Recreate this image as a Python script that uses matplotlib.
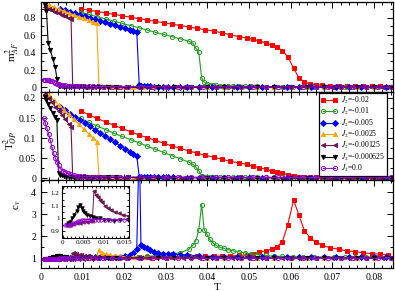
import numpy as np
import matplotlib
matplotlib.use("Agg")
import matplotlib.pyplot as plt
from matplotlib.ticker import MultipleLocator, FormatStrFormatter

plt.rcParams['font.family'] = ['Liberation Serif', 'DejaVu Serif']
plt.rcParams['mathtext.fontset'] = 'stix'

# ---- data ----
# J2 = -0.02
T_a = [0.0095, 0.0115, 0.0135, 0.0155, 0.0175, 0.0195, 0.0215, 0.0235, 0.0255, 0.0275,
       0.0295, 0.0315, 0.0335, 0.0355, 0.0375, 0.0395, 0.0415, 0.0435, 0.0455, 0.0475,
       0.0495, 0.051, 0.0525, 0.054, 0.0555, 0.0567, 0.058, 0.0593, 0.0607, 0.062,
       0.0633, 0.0647, 0.066, 0.0675, 0.0695, 0.0715, 0.0735, 0.0755, 0.0775, 0.0795,
       0.0815, 0.0835]
m_a = [0.900, 0.884, 0.868, 0.852, 0.836, 0.820, 0.804, 0.788, 0.772, 0.756,
       0.740, 0.724, 0.708, 0.692, 0.676, 0.660, 0.645, 0.625, 0.603, 0.582,
       0.565, 0.550, 0.532, 0.510, 0.485, 0.460, 0.420, 0.354, 0.220, 0.110,
       0.062, 0.042, 0.032, 0.026, 0.022, 0.019, 0.017, 0.015, 0.014, 0.013,
       0.012, 0.011]
op_a = [0.168, 0.158, 0.149, 0.140, 0.132, 0.124, 0.116, 0.108, 0.101, 0.094,
        0.087, 0.080, 0.074, 0.068, 0.062, 0.057, 0.052, 0.047, 0.042, 0.038,
        0.034, 0.030, 0.026, 0.022, 0.018, 0.015, 0.012, 0.009, 0.006, 0.004,
        0.003, 0.0025, 0.002, 0.002, 0.002, 0.0018, 0.0018, 0.0017, 0.0016, 0.0016,
        0.0015, 0.0015]
cv_a = [1.05, 1.05, 1.05, 1.05, 1.06, 1.06, 1.06, 1.06, 1.07, 1.07,
        1.07, 1.07, 1.08, 1.08, 1.08, 1.08, 1.09, 1.09, 1.10, 1.12,
        1.15, 1.20, 1.27, 1.33, 1.43, 1.52, 1.74, 2.53, 3.64, 2.95,
        2.25, 1.92, 1.74, 1.59, 1.47, 1.41, 1.33, 1.29, 1.24, 1.20,
        1.18, 1.15]

# J2 = -0.01
T_b = [0.0095, 0.0115, 0.0135, 0.0155, 0.0175, 0.0195, 0.0215, 0.0235, 0.0255, 0.0275,
       0.0295, 0.0315, 0.0335, 0.0355, 0.0365, 0.0372, 0.0379, 0.0386, 0.0392, 0.0398,
       0.0405, 0.0413, 0.0421, 0.043, 0.044, 0.045, 0.0462, 0.0475, 0.049, 0.0505,
       0.052, 0.054, 0.056, 0.058, 0.0605, 0.063, 0.0655, 0.068, 0.0705, 0.073,
       0.0755, 0.078, 0.0805, 0.083]
m_b = [0.860, 0.835, 0.809, 0.784, 0.758, 0.733, 0.708, 0.682, 0.657, 0.631,
       0.606, 0.581, 0.555, 0.530, 0.505, 0.450, 0.405, 0.110, 0.060, 0.042,
       0.033, 0.028, 0.024, 0.021, 0.019, 0.018, 0.016, 0.015, 0.014, 0.013,
       0.012, 0.011, 0.010, 0.010, 0.009, 0.009, 0.008, 0.008, 0.008, 0.007,
       0.007, 0.007, 0.006, 0.006]
op_b = [0.149, 0.139, 0.130, 0.121, 0.112, 0.104, 0.096, 0.088, 0.080, 0.072,
        0.064, 0.056, 0.048, 0.040, 0.034, 0.027, 0.018, 0.006, 0.004, 0.003,
        0.003, 0.0025, 0.0025, 0.0022, 0.0022, 0.002, 0.002, 0.002, 0.0018, 0.0018,
        0.0017, 0.0017, 0.0016, 0.0016, 0.0015, 0.0015, 0.0015, 0.0014, 0.0014, 0.0014,
        0.0013, 0.0013, 0.0013, 0.0013]
cv_b = [1.04, 1.04, 1.04, 1.05, 1.05, 1.05, 1.06, 1.07, 1.08, 1.11,
        1.14, 1.19, 1.25, 1.40, 1.60, 1.80, 2.27, 3.44, 2.30, 2.10,
        1.85, 1.70, 1.58, 1.50, 1.44, 1.38, 1.33, 1.29, 1.24, 1.20,
        1.16, 1.12, 1.09, 1.08, 1.06, 1.06, 1.05, 1.05, 1.05, 1.04,
        1.04, 1.04, 1.04, 1.04]

# J2 = -0.005
T_c = [0.0046, 0.0058, 0.007, 0.0082, 0.0094, 0.0106, 0.0118, 0.013, 0.0142, 0.0154,
       0.0166, 0.0178, 0.019, 0.0202, 0.0214, 0.0222, 0.023, 0.0236, 0.024, 0.0247,
       0.0255, 0.0263, 0.0272, 0.0282, 0.0294, 0.0306, 0.0318, 0.0335, 0.035, 0.038,
       0.041, 0.044, 0.047, 0.05, 0.053, 0.056, 0.059, 0.062, 0.065, 0.068,
       0.071, 0.074, 0.077, 0.08, 0.083]
m_c = [0.900, 0.883, 0.866, 0.848, 0.831, 0.814, 0.797, 0.779, 0.762, 0.745,
       0.728, 0.710, 0.693, 0.676, 0.659, 0.647, 0.636, 0.025, 0.018, 0.015,
       0.013, 0.012, 0.011, 0.010, 0.010, 0.009, 0.009, 0.008, 0.008, 0.008,
       0.007, 0.007, 0.007, 0.006, 0.006, 0.006, 0.006, 0.005, 0.005, 0.005,
       0.005, 0.005, 0.005, 0.005, 0.005]
op_c = [0.177, 0.169, 0.161, 0.153, 0.145, 0.137, 0.129, 0.121, 0.113, 0.105,
        0.097, 0.089, 0.081, 0.073, 0.065, 0.060, 0.055, 0.003, 0.002, 0.002,
        0.002, 0.0018, 0.0018, 0.0017, 0.0017, 0.0016, 0.0016, 0.0015, 0.0015, 0.0015,
        0.0014, 0.0014, 0.0014, 0.0013, 0.0013, 0.0013, 0.0013, 0.0012, 0.0012, 0.0012,
        0.0012, 0.0012, 0.0012, 0.0012, 0.0012]
cv_c = [1.00, 1.01, 1.01, 1.02, 1.02, 1.02, 1.03, 1.03, 1.03, 1.04,
        1.04, 1.05, 1.06, 1.08, 1.14, 1.24, 1.40, 6.50, 1.59, 1.51,
        1.44, 1.35, 1.29, 1.25, 1.21, 1.19, 1.18, 1.16, 1.14, 1.09,
        1.07, 1.06, 1.05, 1.04, 1.04, 1.04, 1.03, 1.03, 1.03, 1.03,
        1.03, 1.03, 1.03, 1.03, 1.03]

# J2 = -0.0025
T_d = [0.0018, 0.003, 0.0042, 0.0054, 0.0066, 0.0078, 0.009, 0.0102, 0.0114, 0.0126,
       0.0134, 0.0139, 0.0146, 0.0155, 0.0165, 0.0177, 0.019, 0.0205, 0.022, 0.0245,
       0.027, 0.03, 0.033, 0.036, 0.04, 0.044, 0.048, 0.052, 0.056, 0.06,
       0.064, 0.068, 0.072, 0.076, 0.08, 0.084]
m_d = [0.940, 0.919, 0.897, 0.876, 0.854, 0.833, 0.811, 0.790, 0.769, 0.747,
       0.735, 0.020, 0.016, 0.014, 0.012, 0.011, 0.010, 0.009, 0.009, 0.008,
       0.008, 0.007, 0.007, 0.007, 0.006, 0.006, 0.006, 0.005, 0.005, 0.005,
       0.005, 0.005, 0.005, 0.004, 0.004, 0.004]
op_d = [0.207, 0.195, 0.183, 0.171, 0.159, 0.147, 0.135, 0.123, 0.111, 0.099,
        0.091, 0.003, 0.0025, 0.002, 0.002, 0.0018, 0.0017, 0.0016, 0.0015, 0.0015,
        0.0014, 0.0014, 0.0013, 0.0013, 0.0012, 0.0012, 0.0012, 0.0012, 0.0011, 0.0011,
        0.0011, 0.0011, 0.0011, 0.0011, 0.001, 0.001]
cv_d = [0.97, 0.98, 0.98, 0.99, 0.99, 1.00, 1.00, 1.01, 1.01, 1.02,
        1.10, 1.36, 1.25, 1.18, 1.14, 1.10, 1.08, 1.06, 1.05, 1.04,
        1.04, 1.03, 1.03, 1.03, 1.02, 1.02, 1.02, 1.02, 1.02, 1.02,
        1.02, 1.02, 1.02, 1.02, 1.02, 1.02]

# J2 = -0.00125
T_e = [0.001, 0.0018, 0.0026, 0.0034, 0.0042, 0.005, 0.0058, 0.0066, 0.0072, 0.0076,
       0.008, 0.0085, 0.009, 0.0096, 0.0103, 0.011, 0.0118, 0.0127, 0.0137, 0.0148,
       0.016, 0.018, 0.02, 0.023, 0.026, 0.03, 0.034, 0.038, 0.042, 0.046,
       0.05, 0.054, 0.058, 0.062, 0.066, 0.07, 0.074, 0.078, 0.082]
m_e = [0.920, 0.903, 0.885, 0.868, 0.851, 0.833, 0.816, 0.799, 0.786, 0.020,
       0.016, 0.014, 0.013, 0.012, 0.011, 0.010, 0.010, 0.009, 0.009, 0.008,
       0.008, 0.007, 0.007, 0.007, 0.006, 0.006, 0.006, 0.005, 0.005, 0.005,
       0.005, 0.005, 0.004, 0.004, 0.004, 0.004, 0.004, 0.004, 0.004]
op_e = [0.210, 0.199, 0.189, 0.178, 0.168, 0.157, 0.147, 0.136, 0.128, 0.004,
        0.003, 0.0028, 0.0025, 0.0023, 0.0021, 0.002, 0.0019, 0.0018, 0.0017, 0.0016,
        0.0015, 0.0014, 0.0014, 0.0013, 0.0013, 0.0012, 0.0012, 0.0012, 0.0011, 0.0011,
        0.0011, 0.0011, 0.001, 0.001, 0.001, 0.001, 0.001, 0.001, 0.001]
cv_e = [0.95, 0.95, 0.955, 0.96, 0.965, 0.97, 0.97, 0.975, 0.98, 1.22,
        1.19, 1.17, 1.15, 1.13, 1.10, 1.08, 1.07, 1.05, 1.04, 1.03,
        1.02, 1.01, 1.01, 1.00, 1.00, 1.00, 1.00, 1.00, 1.00, 1.00,
        1.00, 1.00, 1.00, 1.00, 1.00, 1.00, 1.00, 1.00, 1.00]

# J2 = -0.000625
T_f = [0.001, 0.0013, 0.0017, 0.0022, 0.0028, 0.0034, 0.0038, 0.0042, 0.0046, 0.005,
       0.0055, 0.006, 0.0066, 0.0073, 0.008, 0.009, 0.01, 0.011, 0.0125, 0.014,
       0.016, 0.018, 0.021, 0.024, 0.028, 0.032, 0.036, 0.04, 0.044, 0.048,
       0.052, 0.056, 0.06, 0.064, 0.068, 0.072, 0.076, 0.08, 0.084]
m_f = [0.940, 0.870, 0.510, 0.430, 0.330, 0.230, 0.100, 0.020, 0.015, 0.012,
       0.011, 0.010, 0.009, 0.009, 0.008, 0.008, 0.007, 0.007, 0.007, 0.006,
       0.006, 0.006, 0.005, 0.005, 0.005, 0.005, 0.005, 0.004, 0.004, 0.004,
       0.004, 0.004, 0.004, 0.004, 0.004, 0.004, 0.004, 0.004, 0.004]
op_f = [0.203, 0.195, 0.185, 0.175, 0.163, 0.152, 0.145, 0.012, 0.009, 0.007,
        0.005, 0.004, 0.0035, 0.003, 0.0028, 0.0025, 0.0023, 0.0022, 0.002, 0.0019,
        0.0018, 0.0017, 0.0016, 0.0015, 0.0014, 0.0014, 0.0013, 0.0013, 0.0012, 0.0012,
        0.0012, 0.0011, 0.0011, 0.0011, 0.0011, 0.001, 0.001, 0.001, 0.001]
cv_f = [0.95, 0.96, 0.97, 1.00, 1.03, 1.06, 1.09, 1.11, 1.08, 1.06,
        1.04, 1.03, 1.02, 1.01, 1.00, 1.00, 0.99, 0.99, 0.98, 0.99,
        0.99, 0.99, 1.00, 1.00, 1.00, 1.00, 1.00, 1.00, 1.00, 1.00,
        1.00, 1.00, 1.00, 1.00, 1.00, 1.00, 1.00, 1.00, 1.00]

# J2 = 0.0
T_g = [0.0006, 0.001, 0.0014, 0.0018, 0.0022, 0.0026, 0.003, 0.0034, 0.0038, 0.0042,
       0.0046, 0.0052, 0.0058, 0.0064, 0.007, 0.0078, 0.0086, 0.0094, 0.0104, 0.0114,
       0.0126, 0.0138, 0.015, 0.017, 0.019, 0.021, 0.024, 0.027, 0.03, 0.033,
       0.036, 0.039, 0.042, 0.045, 0.048, 0.051, 0.054, 0.057, 0.06, 0.063,
       0.066, 0.069, 0.072, 0.075, 0.078, 0.081, 0.084]
m_g = [0.090, 0.088, 0.086, 0.083, 0.078, 0.070, 0.060, 0.050, 0.042, 0.036,
       0.031, 0.027, 0.024, 0.022, 0.020, 0.018, 0.017, 0.016, 0.015, 0.014,
       0.013, 0.012, 0.011, 0.010, 0.010, 0.009, 0.009, 0.008, 0.008, 0.007,
       0.007, 0.007, 0.006, 0.006, 0.006, 0.006, 0.005, 0.005, 0.005, 0.005,
       0.005, 0.005, 0.005, 0.004, 0.004, 0.004, 0.004]
op_g = [0.149, 0.137, 0.124, 0.110, 0.095, 0.078, 0.062, 0.050, 0.041, 0.032,
        0.024, 0.019, 0.016, 0.013, 0.010, 0.008, 0.006, 0.005, 0.0045, 0.004,
        0.0037, 0.0035, 0.0033, 0.003, 0.003, 0.0028, 0.0027, 0.0026, 0.0025, 0.0024,
        0.0023, 0.0022, 0.0022, 0.0021, 0.0021, 0.002, 0.002, 0.002, 0.0019, 0.0019,
        0.0019, 0.0018, 0.0018, 0.0018, 0.0018, 0.0017, 0.0017]
cv_g = [0.945, 0.945, 0.945, 0.95, 0.955, 0.96, 0.965, 0.97, 0.975, 0.98,
        0.985, 0.99, 0.99, 0.99, 0.99, 0.99, 0.99, 0.99, 0.99, 0.99,
        0.99, 0.99, 0.99, 0.99, 0.99, 0.99, 0.99, 0.99, 0.99, 0.99,
        0.99, 0.99, 0.99, 0.99, 0.99, 0.99, 0.99, 0.99, 0.99, 0.99,
        0.99, 0.99, 0.99, 0.99, 0.99, 0.99, 0.99]

labels = ['$J_2$=-0.02', '$J_2$=-0.01', '$J_2$=-0.005', '$J_2$=-0.0025',
          '$J_2$=-0.00125', '$J_2$=-0.000625', '$J_2$=0.0']
colors = ['#ff0000', '#1f9e1f', '#0000ff', '#ffa500', '#6e1650', '#000000', '#9400d3']
markers = ['s', 'o', 'D', '^', '<', 'v', 'o']
hollow = [False, True, False, False, False, False, True]

Ts = [T_a, T_b, T_c, T_d, T_e, T_f, T_g]
ms = [m_a, m_b, m_c, m_d, m_e, m_f, m_g]
ops = [op_a, op_b, op_c, op_d, op_e, op_f, op_g]
cvs = [cv_a, cv_b, cv_c, cv_d, cv_e, cv_f, cv_g]

fig = plt.figure(figsize=(3.95, 2.91), dpi=100)
L, W = 0.104, 0.891
ax1 = fig.add_axes([L, 0.684, W, 0.309])
ax2 = fig.add_axes([L, 0.381, W, 0.303], sharex=ax1)
ax3 = fig.add_axes([L, 0.079, W, 0.302], sharex=ax1)


def draw(ax, ys, ms_=3.0, lw=0.8):
    for i in range(7):
        fc = 'none' if hollow[i] else colors[i]
        ax.plot(Ts[i], ys[i], color=colors[i], marker=markers[i], ms=ms_,
                mfc=fc, mec=colors[i], mew=0.7, lw=lw, label=labels[i])


draw(ax1, ms)
draw(ax2, ops)
draw(ax3, cvs)

for ax in (ax1, ax2, ax3):
    ax.set_xlim(0, 0.0846)
    ax.xaxis.set_major_locator(MultipleLocator(0.01))
    ax.xaxis.set_minor_locator(MultipleLocator(0.002))
    ax.tick_params(which='both', direction='in', top=True, right=True,
                   labelsize=7, width=0.7)
    ax.tick_params(which='major', length=4)
    ax.tick_params(which='minor', length=2)
    for s in ax.spines.values():
        s.set_linewidth(0.9)

ax1.set_ylim(-0.051, 0.977)
ax1.yaxis.set_major_locator(MultipleLocator(0.2))
ax1.yaxis.set_minor_locator(MultipleLocator(0.1))
ax1.yaxis.set_major_formatter(FormatStrFormatter('%g'))
ax1.tick_params(labelbottom=False)

ax2.set_ylim(-0.005, 0.215)
ax2.yaxis.set_major_locator(MultipleLocator(0.05))
ax2.yaxis.set_minor_locator(MultipleLocator(0.025))
ax2.yaxis.set_major_formatter(FormatStrFormatter('%g'))
ax2.tick_params(labelbottom=False)

ax3.set_ylim(0.55, 4.55)
ax3.yaxis.set_major_locator(MultipleLocator(1))
ax3.yaxis.set_minor_locator(MultipleLocator(0.5))
ax3.xaxis.set_major_formatter(FormatStrFormatter('%g'))

ax1.set_ylabel('m$_{AF}^{2}$', fontsize=8)
ax1.yaxis.set_label_coords(-0.055, 0.45)
ax2.set_ylabel('T$^{2}_{OP}$', fontsize=8)
ax2.yaxis.set_label_coords(-0.06, 0.45)
ax3.set_ylabel('c$_v$', fontsize=8)
ax3.yaxis.set_label_coords(-0.05, 0.72)
ax3.set_xlabel('T', fontsize=8, labelpad=1)

leg = ax2.legend(loc='upper right', bbox_to_anchor=(0.985, 1.0), fontsize=5.6,
                 numpoints=2, handlelength=2.2, labelspacing=0.02,
                 handletextpad=0.4, borderpad=0.25, borderaxespad=0.1,
                 fancybox=False, framealpha=1)
leg.get_frame().set_edgecolor('black')
leg.get_frame().set_linewidth(0.9)

# inset with the low-T specific heat
axi = fig.add_axes([0.156, 0.181, 0.171, 0.180])
for i in (4, 5, 6):
    fc = 'none' if hollow[i] else colors[i]
    axi.plot(Ts[i], cvs[i], color=colors[i], marker=markers[i], ms=2.5,
             mfc=fc, mec=colors[i], mew=0.6, lw=0.7)
axi.set_xlim(-0.0003, 0.0162)
axi.set_ylim(0.84, 1.26)
axi.xaxis.set_major_locator(MultipleLocator(0.005))
axi.xaxis.set_minor_locator(MultipleLocator(0.001))
axi.yaxis.set_major_locator(MultipleLocator(0.1))
axi.yaxis.set_minor_locator(MultipleLocator(0.05))
axi.xaxis.set_major_formatter(FormatStrFormatter('%g'))
axi.yaxis.set_major_formatter(FormatStrFormatter('%g'))
axi.tick_params(which='both', direction='in', top=True, right=True,
                labelsize=5, width=0.6, pad=1.5)
axi.tick_params(which='major', length=2.5)
axi.tick_params(which='minor', length=1.3)
for s in axi.spines.values():
    s.set_linewidth(0.8)

fig.savefig('out.png', dpi=100)
